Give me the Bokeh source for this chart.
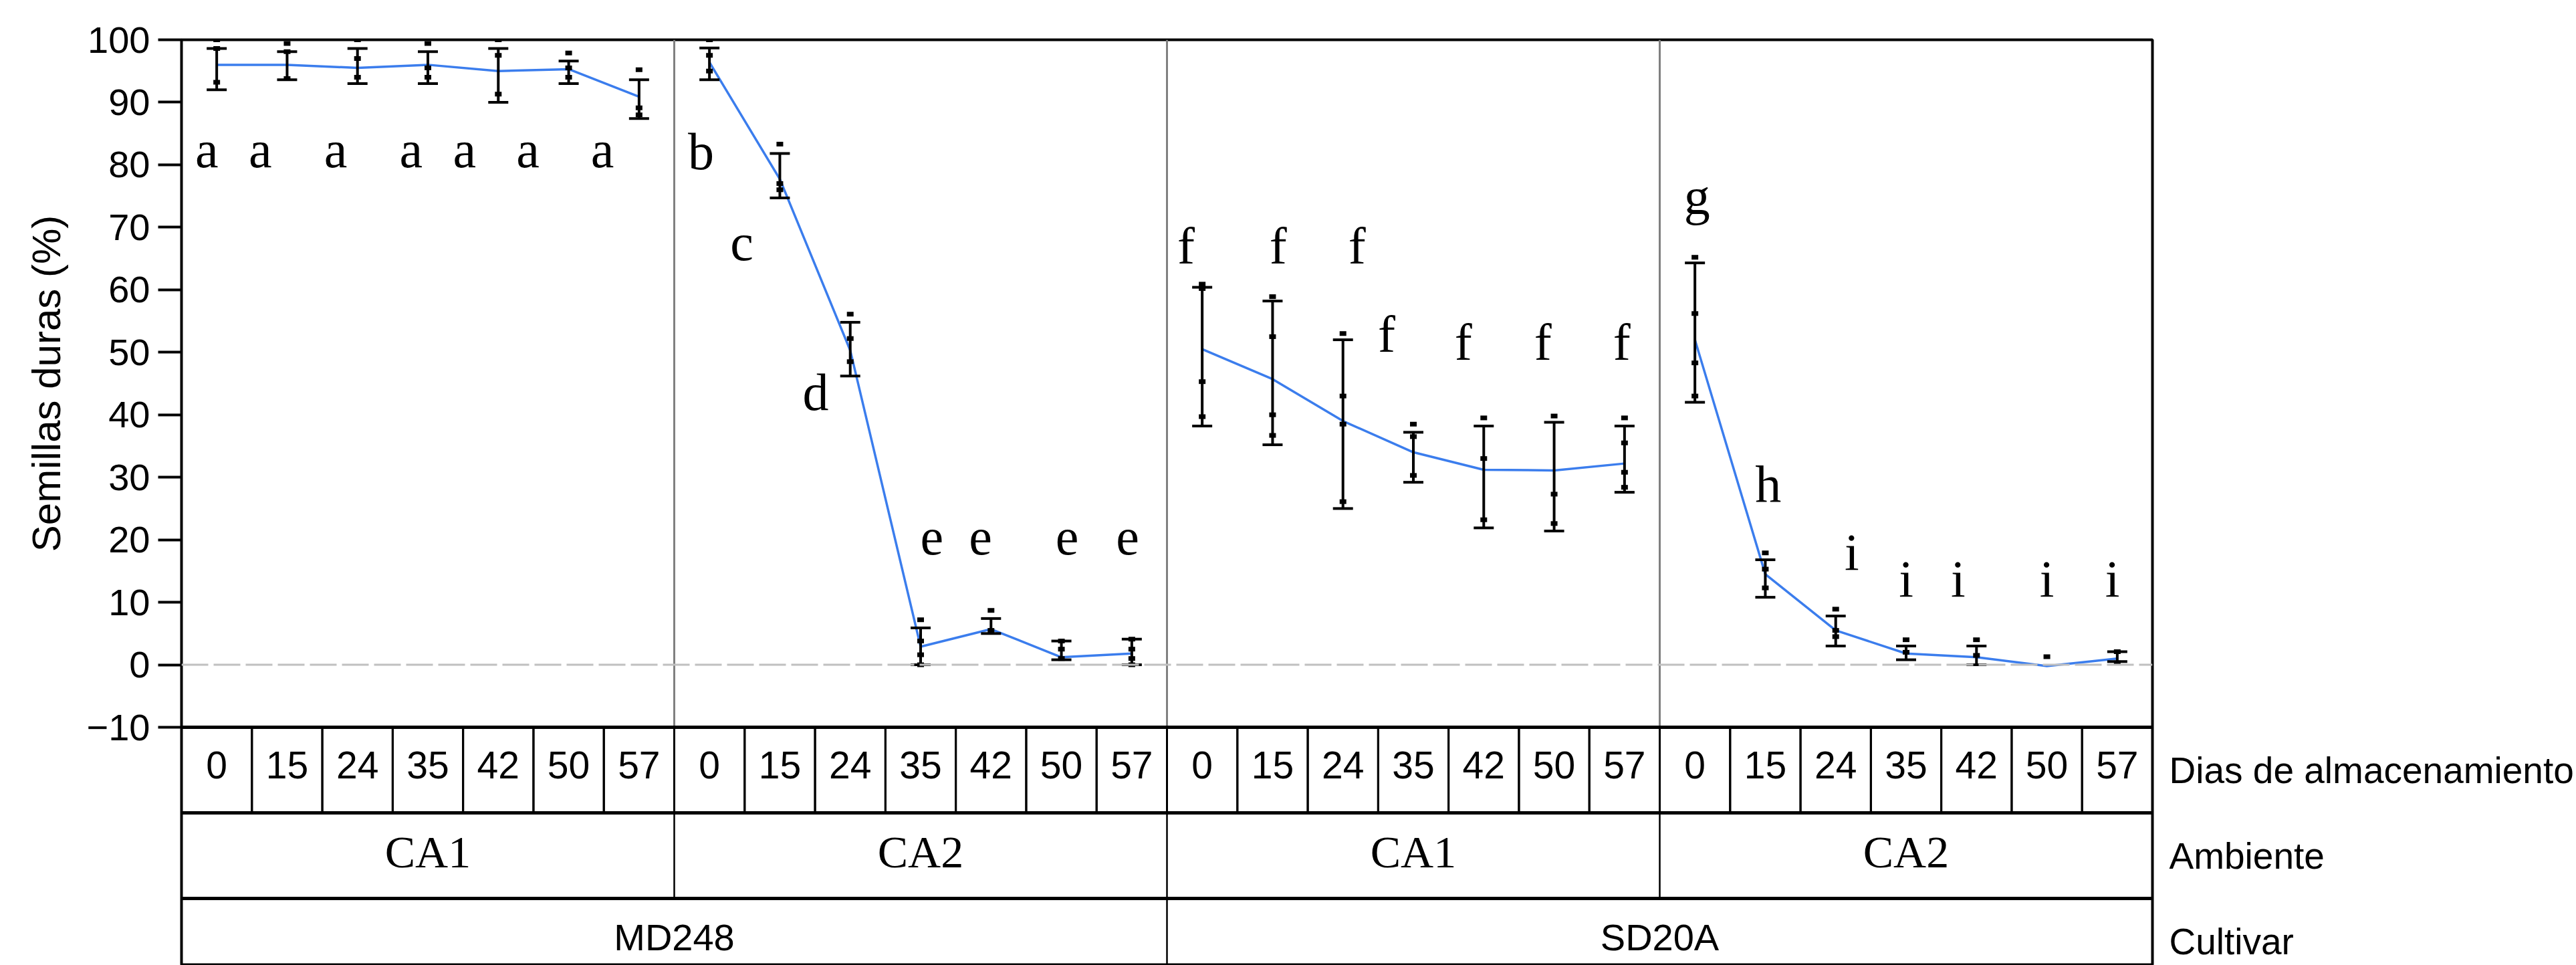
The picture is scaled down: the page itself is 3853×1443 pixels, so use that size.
from bokeh.plotting import figure
from bokeh.models import FactorRange, Range1d, FixedTicker, Span, LinearAxis
from bokeh.embed import file_html
from bokeh.resources import INLINE
from bokeh.core.properties import value

# ---------------- data ----------------
cultivars = ["MD248", "SD20A"]
ambientes = ["CA1", "CA2"]
dias = ["0", "15", "24", "35", "42", "50", "57"]
row_names = ["Dias de almacenamiento", "Ambiente", "Cultivar"]
y_title = "Semillas duras (%)"
y_ticks = [-10, 0, 10, 20, 30, 40, 50, 60, 70, 80, 90, 100]

# MD248 - CA1
mean_md_ca1 = [96.0, 96.0, 95.5, 96.0, 95.0, 95.3, 90.9]
low_md_ca1 = [92.0, 93.6, 93.0, 93.0, 90.0, 93.0, 87.4]
high_md_ca1 = [98.6, 98.1, 98.6, 98.1, 98.6, 96.6, 93.6]
reps_md_ca1 = [[100, 98.6, 93.2], [99.4, 98.1, 93.8], [100, 97.0, 94.0], [99.4, 95.5, 94.0],
               [100, 97.5, 91.3], [97.9, 95.5, 94.0], [95.2, 89.1, 88.0]]
let_md_ca1 = ["a", "a", "a", "a", "a", "a", "a"]
let_y_md_ca1 = [80.3, 80.3, 80.3, 80.3, 80.3, 80.3, 80.3]
let_dx_md_ca1 = [-0.14, -0.38, -0.31, -0.24, -0.48, -0.58, -0.52]

# MD248 - CA2
mean_md_ca2 = [96.4, 77.7, 50.3, 2.9, 5.7, 1.2, 1.8]
low_md_ca2 = [93.6, 74.7, 46.2, 0.0, 5.0, 0.8, 0.0]
high_md_ca2 = [98.7, 81.8, 54.8, 5.9, 7.4, 3.8, 4.1]
reps_md_ca2 = [[100, 97.5, 95.0], [83.3, 77.0, 76.0], [56.1, 52.2, 48.5], [7.2, 3.8, 1.6, 0.0],
               [8.7, 5.5], [3.8, 2.5, 1.0], [4.1, 2.5, 1.0, 0.0]]
let_md_ca2 = ["b", "c", "d", "e", "e", "e", "e"]
let_y_md_ca2 = [80.0, 65.4, 41.5, 18.3, 18.3, 18.3, 18.3]
let_dx_md_ca2 = [-0.12, -0.54, -0.49, 0.16, -0.15, 0.08, -0.06]

# SD20A - CA1
mean_sd_ca1 = [50.5, 45.7, 39.0, 34.0, 31.2, 31.1, 32.2]
low_sd_ca1 = [38.2, 35.2, 25.0, 29.2, 21.9, 21.4, 27.6]
high_sd_ca1 = [60.4, 58.2, 52.0, 37.2, 38.2, 38.8, 38.2]
reps_sd_ca1 = [[60.9, 60.2, 45.3, 39.7], [58.9, 52.5, 40.0, 36.7], [53.0, 43.0, 38.5, 26.1],
               [38.5, 36.5, 30.3], [39.5, 33.0, 23.2], [39.8, 27.3, 22.6], [39.5, 35.5, 30.8, 28.4]]
let_sd_ca1 = ["f", "f", "f", "f", "f", "f", "f"]
let_y_sd_ca1 = [64.9, 64.9, 64.9, 50.8, 49.5, 49.5, 49.5]
let_dx_sd_ca1 = [-0.23, 0.08, 0.20, -0.38, -0.29, -0.16, -0.04]

# SD20A - CA2
mean_sd_ca2 = [52.0, 14.5, 5.5, 1.8, 1.2, -0.2, 1.0]
low_sd_ca2 = [42.0, 10.8, 3.0, 0.8, 0.0, float("nan"), 0.5]
high_sd_ca2 = [64.3, 16.8, 7.8, 3.0, 3.0, float("nan"), 2.1]
reps_sd_ca2 = [[65.2, 56.2, 48.3, 43.0], [17.9, 15.3, 12.3], [8.9, 5.5, 4.5], [4.0, 2.0],
               [4.0, 1.5], [1.3], [2.1, 0.3]]
let_sd_ca2 = ["g", "h", "i", "i", "i", "i", "i"]
let_y_sd_ca2 = [72.8, 26.7, 15.9, 11.6, 11.6, 11.6, 11.6]
let_dx_sd_ca2 = [0.03, 0.04, 0.23, 0.0, -0.26, 0.0, -0.07]

groups = [
    ("MD248", "CA1", mean_md_ca1, low_md_ca1, high_md_ca1, reps_md_ca1, let_md_ca1, let_y_md_ca1, let_dx_md_ca1),
    ("MD248", "CA2", mean_md_ca2, low_md_ca2, high_md_ca2, reps_md_ca2, let_md_ca2, let_y_md_ca2, let_dx_md_ca2),
    ("SD20A", "CA1", mean_sd_ca1, low_sd_ca1, high_sd_ca1, reps_sd_ca1, let_sd_ca1, let_y_sd_ca1, let_dx_sd_ca1),
    ("SD20A", "CA2", mean_sd_ca2, low_sd_ca2, high_sd_ca2, reps_sd_ca2, let_sd_ca2, let_y_sd_ca2, let_dx_sd_ca2),
]

# ---------------- layout / styles ----------------
SANS = "'Liberation Sans', Arial, sans-serif"
SERIF = "'Liberation Serif', 'Times New Roman', serif"
BLUE = "#3b7ded"
Y_MIN, Y_MAX = -10, 100

W, H = 3853, 1443
LB, TOP = 271, 59
DATA_PX = 1028            # pixel height of the -10..100 data region
FRAME_W = 2948
RB = W - LB - FRAME_W
FRAME_H = H - TOP
px_per_unit = DATA_PX / (Y_MAX - Y_MIN)
ROW_H = 128 / px_per_unit  # table row height in y units
y_start = Y_MAX - FRAME_H / px_per_unit

factors = [(c, a, d) for c in cultivars for a in ambientes for d in dias]
xr = FactorRange(*factors, factor_padding=0, subgroup_padding=0, group_padding=0, range_padding=0)

p = figure(width=W, height=H, x_range=xr, y_range=Range1d(y_start, Y_MAX),
           output_backend="svg", toolbar_location=None,
           min_border_left=LB, min_border_right=RB, min_border_top=TOP, min_border_bottom=0,
           x_axis_location=None)
p.outline_line_color = "black"
p.outline_line_width = 4
p.xgrid.visible = False
p.ygrid.visible = False
p.background_fill_color = "white"
p.border_fill_color = "white"

ax = p.yaxis[0]
ax.ticker = FixedTicker(ticks=y_ticks)
ax.major_label_text_font = SANS
ax.major_label_text_font_size = "56px"
ax.major_label_text_color = "black"
ax.major_label_standoff = 12
ax.major_tick_out = 35
ax.major_tick_in = 0
ax.major_tick_line_width = 4
ax.minor_tick_line_color = None
ax.axis_line_color = None

# y-axis title, centred on the -10..100 data region (a single-tick axis)
mid = int((Y_MIN + Y_MAX) / 2)
tax = LinearAxis(ticker=FixedTicker(ticks=[mid]), major_label_overrides={mid: y_title})
tax.major_label_orientation = "vertical"
tax.major_label_text_font = SANS
tax.major_label_text_font_size = "60px"
tax.major_label_text_color = "black"
tax.major_label_standoff = 24
tax.axis_line_color = None
tax.major_tick_line_color = None
tax.minor_tick_line_color = None
tax.major_tick_out = 0
tax.major_tick_in = 0
p.add_layout(tax, "left")

# zero reference line
p.add_layout(Span(location=0, dimension="width", line_color="#c0c0c0", line_width=3, line_dash="40 8"))

# panel separators
sep_x = [(g[0], g[1], dias[-1], 0.5) for g in groups[:-1]]
p.segment(x0=sep_x, y0=[Y_MIN] * len(sep_x), x1=sep_x, y1=[Y_MAX] * len(sep_x),
          line_color="#808080", line_width=3)

for (c, a, mean, low, high, reps, lets, let_y, let_dx) in groups:
    xs = [(c, a, d) for d in dias]
    p.line(x=xs, y=mean, line_color=BLUE, line_width=3.5)
    p.segment(x0=xs, y0=low, x1=xs, y1=high, line_color="black", line_width=4)
    p.rect(x=xs + xs, y=low + high, width=30, height=4, width_units="screen", height_units="screen",
           fill_color="black", line_color=None)
    rx, ry = [], []
    for d, rr in zip(dias, reps):
        for r in rr:
            rx.append((c, a, d))
            ry.append(r)
    p.rect(x=rx, y=ry, width=10, height=7, width_units="screen", height_units="screen",
           fill_color="black", line_color=None)
    lx = [(c, a, d, dx) for d, dx in zip(dias, let_dx)]
    p.text(x=lx, y=let_y, text=lets, text_font=value(SERIF), text_font_size="78px",
           text_align="center", text_baseline="alphabetic", y_offset=-20, text_color="black")

# ---------------- table below the data region ----------------
row_y = {name: Y_MIN - ROW_H * (i + 0.5) for i, name in enumerate(row_names)}

# day cells
yd = row_y["Dias de almacenamiento"]
p.rect(x=factors, y=[yd] * len(factors), width=1, height=ROW_H,
       fill_alpha=0, line_color="black", line_width=3)
p.text(x=factors, y=[yd] * len(factors), text=[f[2] for f in factors],
       text_font=value(SANS), text_font_size="57px", text_align="center", text_baseline="middle",
       y_offset=-8, text_color="black")

# ambiente cells
ya = row_y["Ambiente"]
amb_x = [(c, a) for c in cultivars for a in ambientes]
p.rect(x=amb_x, y=[ya] * len(amb_x), width=len(dias), height=ROW_H,
       fill_alpha=0, line_color="black", line_width=2)
p.text(x=amb_x, y=[ya] * len(amb_x), text=[a for (_, a) in amb_x],
       text_font=value(SERIF), text_font_size="68px", text_align="center", text_baseline="middle",
       y_offset=-6, text_color="black")

# cultivar cells
yc = row_y["Cultivar"]
p.rect(x=cultivars, y=[yc] * len(cultivars), width=len(dias) * len(ambientes), height=ROW_H,
       fill_alpha=0, line_color="black", line_width=2)
p.text(x=cultivars, y=[yc] * len(cultivars), text=cultivars,
       text_font=value(SANS), text_font_size="56px", text_align="center", text_baseline="middle",
       y_offset=-6, text_color="black")

for i in range(len(row_names)):
    p.add_layout(Span(location=Y_MIN - ROW_H * i, dimension="width", line_color="black", line_width=5))

# row titles on a right-hand axis whose range counts table rows (row i centred at -i)
v_start = (y_start - Y_MIN + 0.5 * ROW_H) / ROW_H
v_end = (Y_MAX - Y_MIN + 0.5 * ROW_H) / ROW_H
p.extra_y_ranges = {"rows": Range1d(v_start, v_end)}
row_ticks = [-i for i in range(len(row_names))]
rax = LinearAxis(y_range_name="rows", ticker=FixedTicker(ticks=row_ticks),
                 major_label_overrides={-i: n for i, n in enumerate(row_names)})
rax.axis_line_color = None
rax.major_tick_line_color = None
rax.minor_tick_line_color = None
rax.major_tick_out = 0
rax.major_tick_in = 0
rax.major_label_standoff = 25
rax.major_label_text_font = SANS
rax.major_label_text_font_size = "55px"
rax.major_label_text_color = "black"
p.add_layout(rax, "right")

open("out.html", "w").write(file_html(p, INLINE))
